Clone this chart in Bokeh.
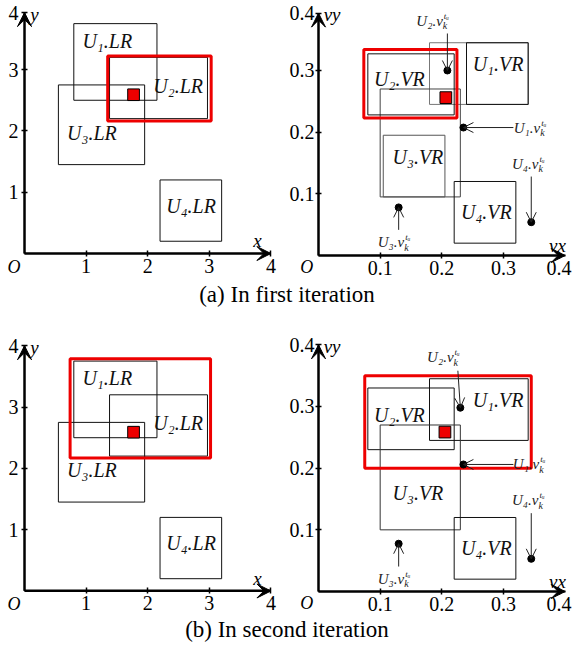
from bokeh.plotting import figure
from bokeh.layouts import column, row
from bokeh.models import Range1d, LinearAxis, FixedTicker, Arrow, VeeHead, OpenHead
from bokeh.core.properties import value
from bokeh.embed import file_html
from bokeh.resources import INLINE

SERIF = "Liberation Serif"

# ---------------- position space (LR) ----------------
pos_tick_labels = ["1", "2", "3", "4"]
pos_xticks = [1, 2, 3, 4]
pos_yticks_a = [1, 2, 3, 3.93]     # "4" sits at the arrow tip in the first row
pos_yticks_b = [1, 2, 3, 4]
lr_names = ["U₁.LR", "U₂.LR", "U₃.LR", "U₄.LR"]
lr_left = [0.80, 1.38, 0.55, 2.20]
lr_right = [2.15, 2.97, 1.95, 3.20]
lr_bottom = [2.50, 2.20, 1.45, 0.20]
lr_top = [3.75, 3.20, 2.75, 1.20]
lr_label_x = [0.94, 2.09, 0.69, 2.30]
lr_label_y = [3.47, 2.74, 1.97, 0.78]
lr_sel_a = [1.35, 3.03, 2.16, 3.22]   # left, right, bottom, top (red, first iteration)
lr_sel_b = [0.74, 3.02, 2.17, 3.79]   # red, second iteration
lr_square_x = [1.77]
lr_square_y = [2.59]
lr_square_w = 0.19

# ---------------- velocity space (VR) ----------------
vel_tick_labels = ["0.1", "0.2", "0.3", "0.4"]
vel_xticks = [0.1, 0.2, 0.3, 0.39]
vel_yticks_a = [0.1, 0.2, 0.3, 0.393]
vel_yticks_b = [0.1, 0.2, 0.3, 0.4]
vr_names = ["U₁.VR", "U₂.VR", "U₃.VR", "U₄.VR"]
vr_label_x = [0.25, 0.09, 0.12, 0.231]
vr_label_y = [0.311, 0.2865, 0.159, 0.0705]
# first iteration boxes
vra_left = [0.18, 0.10, 0.24, 0.08, 0.105, 0.22]
vra_right = [0.34, 0.23, 0.34, 0.22, 0.205, 0.32]
vra_bottom = [0.245, 0.095, 0.245, 0.228, 0.095, 0.02]
vra_top = [0.345, 0.27, 0.345, 0.327, 0.195, 0.12]
vra_color = ["#777777", "#444444", "#111111", "#111111", "#555555", "#111111"]
# second iteration boxes
vrb_left = [0.18, 0.08, 0.10, 0.22]
vrb_right = [0.34, 0.22, 0.23, 0.32]
vrb_bottom = [0.245, 0.23, 0.10, 0.02]
vrb_top = [0.345, 0.33, 0.27, 0.12]
vrb_color = ["#111111", "#111111", "#333333", "#111111"]
vr_sel_a = [0.0735, 0.2245, 0.223, 0.334]
vr_sel_b = [0.075, 0.345, 0.20, 0.35]
vra_square_x, vra_square_y = [0.2065], [0.256]
vrb_square_x, vrb_square_y = [0.205], [0.2585]
vr_square_w = 0.019

# velocities v_k^{t_u} of U1..U4
v_names = ["U₁.v", "U₂.v", "U₃.v", "U₄.v"]
va_x = [0.235, 0.209, 0.13, 0.345]
va_y = [0.2075, 0.300, 0.078, 0.054]
va_from_x = [0.316, 0.209, 0.13, 0.345]
va_from_y = [0.2075, 0.360, 0.0416, 0.128]
va_lab_x = [0.3595, 0.2016, 0.139, 0.3567]
va_lab_y = [0.2075, 0.381, 0.0216, 0.1487]
vb_x = [0.235, 0.230, 0.13, 0.345]
vb_y = [0.206, 0.298, 0.0775, 0.053]
vb_from_x = [0.316, 0.226, 0.13, 0.345]
vb_from_y = [0.206, 0.358, 0.0405, 0.127]
vb_lab_x = [0.358, 0.219, 0.139, 0.3567]
vb_lab_y = [0.206, 0.380, 0.0205, 0.1476]

captions = ["(a) In first iteration", "(b) In second iteration"]


def base_fig(w, h, xr, yr):
    p = figure(width=w, height=h, x_range=Range1d(*xr), y_range=Range1d(*yr),
               x_axis_type=None, y_axis_type=None, toolbar_location=None,
               output_backend="svg", min_border=0)
    p.outline_line_color = None
    p.background_fill_color = "white"
    p.border_fill_color = "white"
    return p


def add_axes(p, xticks, yticks, labels, xmax, xname, yname, xname_pos, yname_pos, o_pos,
             ystand, xstand):
    ymax = yticks[-1]
    common = dict(axis_line_width=2, axis_line_color="black",
                  major_tick_line_width=1.5, major_tick_line_color="black",
                  major_tick_in=3, major_tick_out=3, minor_tick_line_color=None,
                  major_label_text_font=SERIF, major_label_text_font_size="20px",
                  major_label_text_color="black")
    xa = LinearAxis(ticker=FixedTicker(ticks=xticks), bounds=(0, xmax), fixed_location=0,
                    major_label_standoff=xstand,
                    major_label_overrides=dict(zip(xticks, labels)), **common)
    ya = LinearAxis(ticker=FixedTicker(ticks=yticks), bounds=(0, ymax), fixed_location=0,
                    major_label_standoff=ystand, major_label_orientation="horizontal",
                    major_label_overrides=dict(zip(yticks, labels)), **common)
    p.add_layout(xa, "below")
    p.add_layout(ya, "left")
    for xs, ys, xe, ye in [(0, 0, xmax, 0), (0, 0, 0, ymax)]:
        p.add_layout(Arrow(end=VeeHead(size=14, fill_color="black", line_color="black", line_width=1),
                           x_start=xs, y_start=ys, x_end=xe, y_end=ye,
                           line_width=2, line_color="black"))
    p.text(x=[xname_pos[0]], y=[xname_pos[1]], text=[xname], text_font=value(SERIF),
           text_font_style="italic", text_font_size="19px", text_align="center",
           text_baseline="middle", text_color="black")
    p.text(x=[yname_pos[0]], y=[yname_pos[1]], text=[yname], text_font=value(SERIF),
           text_font_style="italic", text_font_size="19px", text_align="center",
           text_baseline="middle", text_color="black")
    p.text(x=[o_pos[0]], y=[o_pos[1]], text=["O"], text_font=value(SERIF),
           text_font_style="italic", text_font_size="18px", text_align="center",
           text_baseline="middle", text_color="black")


def boxes(p, l, r, b, t, color, width=1.0):
    p.quad(left=l, right=r, bottom=b, top=t, fill_color=None, line_color=color, line_width=width)


def pos_panel(h, ytop, sel, yticks):
    w = 283
    p = base_fig(w, h, (-0.39, -0.39 + w / 61.6), (ytop - h / 61.3, ytop))
    boxes(p, lr_left, lr_right, lr_bottom, lr_top, "#111111")
    boxes(p, [sel[0]], [sel[1]], [sel[2]], [sel[3]], "#ee0000", 3)
    p.rect(x=lr_square_x, y=lr_square_y, width=lr_square_w, height=lr_square_w,
           fill_color="#ee0000", line_color="black", line_width=1)
    p.text(x=lr_label_x, y=lr_label_y, text=lr_names, text_font=value(SERIF),
           text_font_style="italic", text_font_size="20px", text_align="left",
           text_baseline="middle", text_color="#111111")
    add_axes(p, pos_xticks, yticks, pos_tick_labels, 4, "x", "y", (3.78, 0.21),
             (0.16, yticks[-1] - 0.03), (-0.17, -0.22), 3, 2)
    return p


def vel_panel(h, ytop, l, r, b, t, colors, sel, sqx, sqy, px, py, fx, fy, lx, ly, yticks):
    w = 290
    x0 = -35 / 616.7
    p = base_fig(w, h, (x0, x0 + w / 616.7), (ytop - h / 616.7, ytop))
    boxes(p, l, r, b, t, colors)
    boxes(p, [sel[0]], [sel[1]], [sel[2]], [sel[3]], "#ee0000", 3)
    p.rect(x=sqx, y=sqy, width=vr_square_w, height=vr_square_w,
           fill_color="#ee0000", line_color="black", line_width=1)
    p.text(x=vr_label_x, y=vr_label_y, text=vr_names, text_font=value(SERIF),
           text_font_style="italic", text_font_size="20px", text_align="left",
           text_baseline="middle", text_color="#111111")
    for i in range(len(px)):
        p.add_layout(Arrow(end=OpenHead(size=10, line_color="#222222", line_width=1),
                           x_start=fx[i], y_start=fy[i], x_end=px[i], y_end=py[i],
                           line_width=1, line_color="#222222"))
    p.scatter(x=px, y=py, size=7, color="black")
    p.text(x=lx, y=ly, text=v_names, text_font=value(SERIF), text_font_style="italic",
           text_font_size="15px", text_align="right", text_baseline="middle",
           text_color="#222222")
    p.text(x=lx, y=ly, text=["k"] * len(lx), text_font=value(SERIF), text_font_style="italic",
           text_font_size="10px", text_align="left", text_baseline="middle",
           text_color="#222222", x_offset=0, y_offset=5)
    p.text(x=lx, y=ly, text=["tᵤ"] * len(lx), text_font=value(SERIF), text_font_style="italic",
           text_font_size="9px", text_align="left", text_baseline="middle",
           text_color="#222222", x_offset=1, y_offset=-5)
    add_axes(p, vel_xticks, yticks, vel_tick_labels, 0.4, "vx", "vy", (0.3875, 0.017),
             (0.022, yticks[-1] - 0.002), (-0.019, -0.019), 1, 2)
    return p


def caption(text, h, yfrac):
    c = base_fig(573, h, (0, 1), (0, 1))
    c.text(x=[0.5], y=[yfrac], text=[text], text_font=value(SERIF), text_font_size="23px",
           text_align="center", text_baseline="middle", text_color="black")
    return c


a_left = pos_panel(280, 253 / 61.3, lr_sel_a, pos_yticks_a)
a_right = vel_panel(280, 255 / 616.7, vra_left, vra_right, vra_bottom, vra_top, vra_color,
                    vr_sel_a, vra_square_x, vra_square_y, va_x, va_y, va_from_x, va_from_y,
                    va_lab_x, va_lab_y, vel_yticks_a)
cap_a = caption(captions[0], 28, 0.5)
b_left = pos_panel(308, 282 / 61.2, lr_sel_b, pos_yticks_b)
b_right = vel_panel(308, 283 / 616.7, vrb_left, vrb_right, vrb_bottom, vrb_top, vrb_color,
                    vr_sel_b, vrb_square_x, vrb_square_y, vb_x, vb_y, vb_from_x, vb_from_y,
                    vb_lab_x, vb_lab_y, vel_yticks_b)
cap_b = caption(captions[1], 29, 1 - 13 / 29)

layout = column(row(a_left, a_right, spacing=0), cap_a, row(b_left, b_right, spacing=0), cap_b,
                spacing=0)

open("out.html", "w").write(file_html(layout, INLINE))
